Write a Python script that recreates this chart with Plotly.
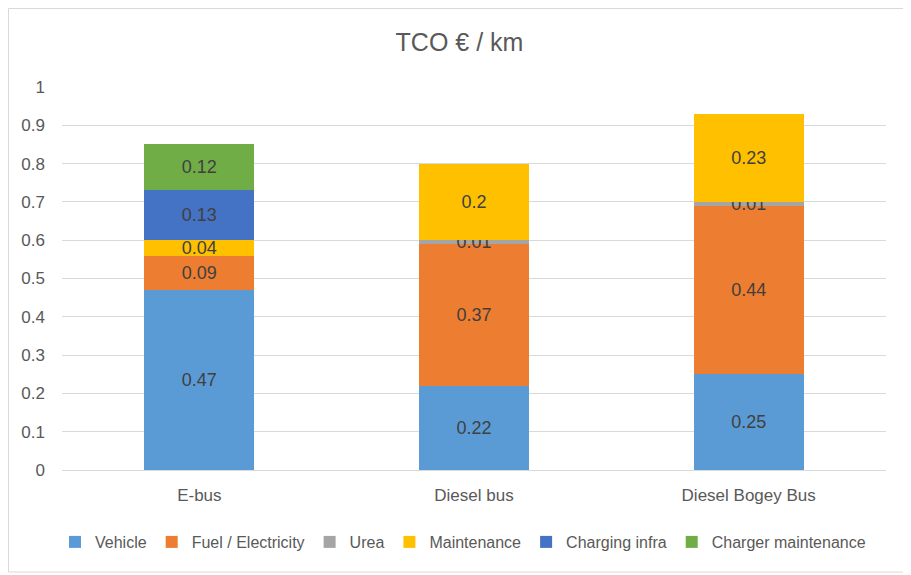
import plotly.graph_objects as go

categories = ["E-bus", "Diesel bus", "Diesel Bogey Bus"]
series_names = ["Vehicle", "Fuel / Electricity", "Urea", "Maintenance", "Charging infra", "Charger maintenance"]
vehicle = [0.47, 0.22, 0.25]
fuel = [0.09, 0.37, 0.44]
urea = [None, 0.01, 0.01]
maintenance = [0.04, 0.2, 0.23]
charging_infra = [0.13, None, None]
charger_maintenance = [0.12, None, None]
y_ticks = [0, 0.1, 0.2, 0.3, 0.4, 0.5, 0.6, 0.7, 0.8, 0.9, 1]

colors = ["#5B9BD5", "#ED7D31", "#A5A5A5", "#FFC000", "#4472C4", "#70AD47"]
FONT = "Liberation Sans, Arial, sans-serif"

fig = go.Figure()
for name, vals, col in zip(series_names,
                           [vehicle, fuel, urea, maintenance, charging_infra, charger_maintenance],
                           colors):
    fig.add_trace(go.Bar(
        name=name, x=categories, y=vals, marker=dict(color=col, line=dict(width=0)),
        text=[("" if v is None else f"{v:g}") for v in vals],
        textposition="inside", insidetextanchor="middle",
        textfont=dict(color="#404040", size=18, family=FONT),
        cliponaxis=False,
    ))

# page is offset by the 8px body margin
OFF = 8
W, H = 911 - OFF, 575 - OFF
L, T = 62 - OFF, 87 - OFF
R = W - (886 - OFF)
B = H - (470 - OFF)
pw, ph = W - L - R, H - T - B

def px(x):
    return (x - OFF - L) / pw

def py(y):
    return (H - B - (y - OFF)) / ph

fig.update_layout(
    barmode="stack",
    bargap=0.6,
    width=W, height=H,
    margin=dict(l=L, r=R, t=T, b=B),
    paper_bgcolor="white", plot_bgcolor="white",
    font=dict(family=FONT, color="#595959", size=16),
    title=dict(text="TCO € / km", x=0.5, xanchor="center", y=1 - (42 - OFF) / H, yanchor="middle",
               font=dict(size=25, color="#595959", family=FONT)),
    uniformtext=dict(minsize=18, mode="show"),
    xaxis=dict(showgrid=False, showline=True, linecolor="#D9D9D9", linewidth=1,
               tickfont=dict(size=17, color="#595959"), ticks="", ticklabelstandoff=10),
    yaxis=dict(range=[0, 1], tickvals=y_ticks, showgrid=True, gridcolor="#D9D9D9",
               gridwidth=1, zeroline=False, showline=False,
               tickfont=dict(size=17, color="#595959"), ticks="", ticklabelstandoff=16),
    legend=dict(orientation="h", x=px(463), xanchor="center", y=py(542), yanchor="middle",
                font=dict(size=16, color="#595959"), traceorder="normal",
                itemwidth=30, tracegroupgap=0),
    showlegend=True,
    shapes=[dict(type="rect", xref="paper", yref="paper",
                 x0=px(8.5), x1=px(908), y0=py(572), y1=py(8.5),
                 line=dict(color="#D9D9D9", width=1), fillcolor="rgba(0,0,0,0)", layer="below")],
)

fig.write_html("out.html")
